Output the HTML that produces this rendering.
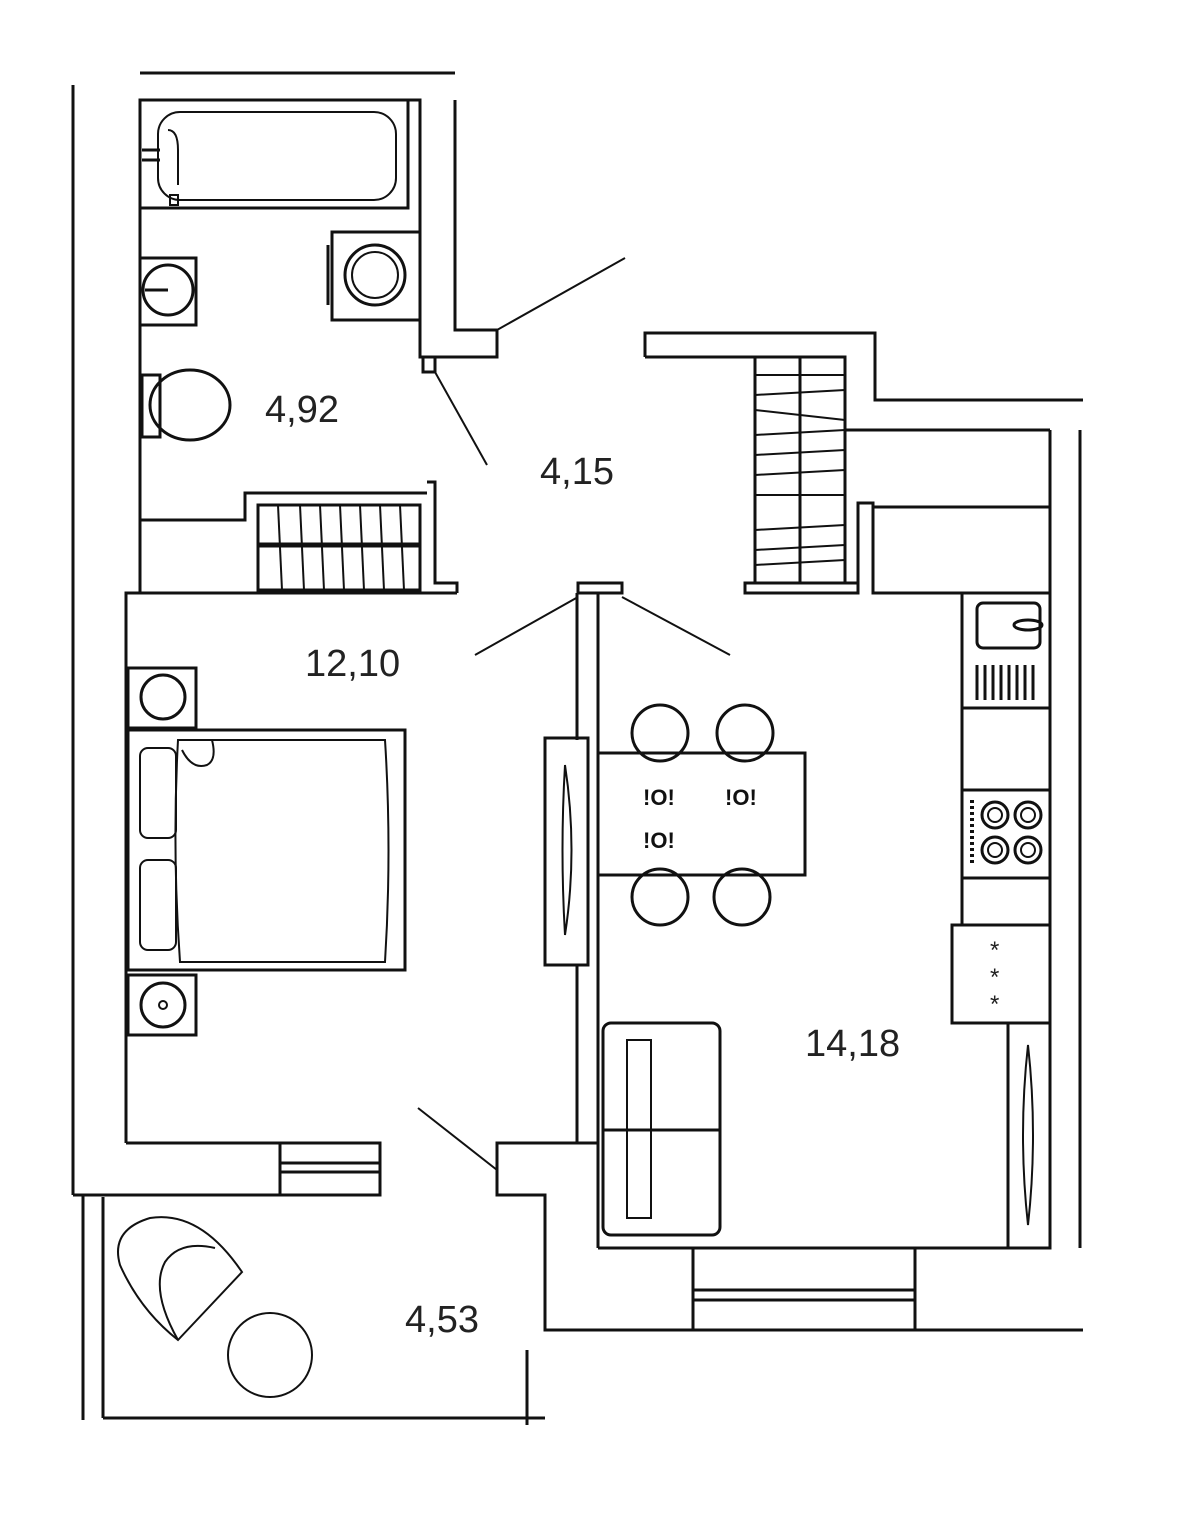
<!DOCTYPE html>
<html><head><meta charset="utf-8"><style>
html,body{margin:0;padding:0;background:#fff;}
svg{display:block}
text{font-family:"Liberation Sans",sans-serif;font-size:38px;fill:#222}
</style></head><body>
<svg width="1203" height="1513" viewBox="0 0 1203 1513" xmlns="http://www.w3.org/2000/svg">
<g fill="none" stroke="#111" stroke-width="3" stroke-linejoin="miter">
<line x1="140" y1="73" x2="455" y2="73"/>
<line x1="73" y1="85" x2="73" y2="1195"/>
<polyline points="140,593 140,100 420,100 420,357 435,357 497,357 497,330 455,330 455,100"/>
<rect x="423" y="357" width="12" height="15"/>
<line x1="497" y1="330" x2="625" y2="258" stroke-width="2"/>
<line x1="435" y1="372" x2="487" y2="465" stroke-width="2"/>
<rect x="140" y="100" width="268" height="108"/>
<rect x="158" y="112" width="238" height="88" rx="22" stroke-width="2"/>
<path d="M168 130 q10 0 10 20 v35" stroke-width="2"/>
<rect x="170" y="195" width="8" height="10" stroke-width="2"/>
<line x1="142" y1="150" x2="160" y2="150"/><line x1="142" y1="160" x2="160" y2="160"/>
<rect x="332" y="232" width="88" height="88"/>
<line x1="328" y1="245" x2="328" y2="305"/>
<circle cx="375" cy="275" r="30"/><circle cx="375" cy="275" r="23" stroke-width="2"/>
<rect x="140" y="258" width="56" height="67"/>
<circle cx="168" cy="290" r="25"/>
<line x1="145" y1="290" x2="168" y2="290"/>
<ellipse cx="190" cy="405" rx="40" ry="35"/>
<rect x="142" y="375" width="18" height="62"/>
<polyline points="140,520 245,520 245,493 420,493 427,493"/>
<polyline points="427,482 435,482 435,583 457,583 457,593"/>
<rect x="258" y="505" width="162" height="85"/>
<line x1="258" y1="545" x2="420" y2="545" stroke-width="5"/>
<g stroke-width="2">
<line x1="278" y1="505" x2="282" y2="590"/><line x1="300" y1="505" x2="304" y2="590"/>
<line x1="320" y1="505" x2="324" y2="590"/><line x1="340" y1="505" x2="344" y2="590"/>
<line x1="360" y1="505" x2="364" y2="590"/><line x1="380" y1="505" x2="384" y2="590"/>
<line x1="400" y1="505" x2="404" y2="590"/>
</g>
<polyline points="126,1143 126,593 457,593"/>
<rect x="578" y="583" width="44" height="10"/>
<line x1="577" y1="593" x2="577" y2="740"/>
<line x1="577" y1="965" x2="577" y2="1143"/>
<line x1="598" y1="593" x2="598" y2="1248"/>
<line x1="578" y1="597" x2="475" y2="655" stroke-width="2"/>
<line x1="622" y1="597" x2="730" y2="655" stroke-width="2"/>
<rect x="128" y="668" width="68" height="60"/><circle cx="163" cy="697" r="22"/>
<rect x="128" y="975" width="68" height="60"/><circle cx="163" cy="1005" r="22"/><circle cx="163" cy="1005" r="4" stroke-width="2"/>
<rect x="128" y="730" width="277" height="240"/>
<path d="M178 740 H385 Q392 850 385 962 H180 Q172 850 178 740 Z" stroke-width="2"/>
<rect x="140" y="748" width="36" height="90" rx="8" stroke-width="2"/>
<rect x="140" y="860" width="36" height="90" rx="8" stroke-width="2"/>
<path d="M182 750 q10 20 25 15 q10 -5 5 -25" stroke-width="2"/>
<line x1="126" y1="1143" x2="380" y2="1143"/>
<rect x="280" y="1143" width="100" height="52"/>
<line x1="280" y1="1163" x2="380" y2="1163"/><line x1="280" y1="1172" x2="380" y2="1172"/>
<line x1="418" y1="1108" x2="497" y2="1170" stroke-width="2"/>
<polyline points="598,1143 497,1143 497,1195 545,1195 545,1330 1083,1330"/>
<line x1="73" y1="1195" x2="280" y2="1195"/>
<line x1="83" y1="1195" x2="83" y2="1420"/>
<line x1="103" y1="1197" x2="103" y2="1418"/>
<line x1="103" y1="1418" x2="545" y2="1418"/>
<line x1="527" y1="1350" x2="527" y2="1425"/>
<path d="M178 1340 L242 1272 Q200 1210 150 1218 Q110 1230 120 1265 Q140 1310 178 1340 Z" stroke-width="2"/>
<path d="M178 1340 Q150 1290 165 1262 Q180 1240 215 1248" stroke-width="2"/>
<circle cx="270" cy="1355" r="42" stroke-width="2"/>
<line x1="598" y1="1248" x2="1050" y2="1248"/>
<rect x="693" y="1248" width="222" height="82"/>
<line x1="693" y1="1290" x2="915" y2="1290"/><line x1="693" y1="1300" x2="915" y2="1300"/>
<line x1="1050" y1="430" x2="1050" y2="1248"/>
<line x1="1080" y1="430" x2="1080" y2="1248"/>
<polyline points="645,357 645,333 875,333 875,400 1083,400"/>
<line x1="645" y1="357" x2="755" y2="357"/>
<rect x="755" y="357" width="90" height="226"/>
<line x1="800" y1="357" x2="800" y2="583"/>
<g stroke-width="2">
<line x1="755" y1="375" x2="845" y2="375"/><line x1="755" y1="395" x2="845" y2="390"/>
<line x1="755" y1="410" x2="845" y2="420"/><line x1="755" y1="435" x2="845" y2="430"/>
<line x1="755" y1="455" x2="845" y2="450"/><line x1="755" y1="475" x2="845" y2="470"/>
<line x1="755" y1="495" x2="845" y2="495"/><line x1="755" y1="530" x2="845" y2="525"/>
<line x1="755" y1="550" x2="845" y2="545"/><line x1="755" y1="565" x2="845" y2="560"/>
</g>
<rect x="745" y="583" width="113" height="10"/>
<line x1="845" y1="430" x2="1050" y2="430"/>
<polyline points="858,593 858,503 873,503 873,593 1050,593"/>
<line x1="873" y1="507" x2="1050" y2="507"/>
<line x1="962" y1="593" x2="962" y2="925"/>
<rect x="977" y="603" width="63" height="45" rx="6"/>
<ellipse cx="1028" cy="625" rx="14" ry="5"/>
<g stroke-width="3">
<line x1="977" y1="665" x2="977" y2="700"/><line x1="985" y1="665" x2="985" y2="700"/>
<line x1="993" y1="665" x2="993" y2="700"/><line x1="1001" y1="665" x2="1001" y2="700"/>
<line x1="1009" y1="665" x2="1009" y2="700"/><line x1="1017" y1="665" x2="1017" y2="700"/>
<line x1="1025" y1="665" x2="1025" y2="700"/><line x1="1033" y1="665" x2="1033" y2="700"/>
</g>
<line x1="962" y1="708" x2="1050" y2="708"/>
<line x1="962" y1="790" x2="1050" y2="790"/>
<line x1="962" y1="878" x2="1050" y2="878"/>
<circle cx="995" cy="815" r="13"/><circle cx="995" cy="815" r="7" stroke-width="2"/>
<circle cx="1028" cy="815" r="13"/><circle cx="1028" cy="815" r="7" stroke-width="2"/>
<circle cx="995" cy="850" r="13"/><circle cx="995" cy="850" r="7" stroke-width="2"/>
<circle cx="1028" cy="850" r="13"/><circle cx="1028" cy="850" r="7" stroke-width="2"/>
<line x1="972" y1="800" x2="972" y2="865" stroke-dasharray="3 3" stroke-width="4"/>
<rect x="952" y="925" width="98" height="98"/>
<rect x="1008" y="1023" width="42" height="225"/>
<path d="M1028 1045 Q1038 1135 1028 1225 Q1018 1135 1028 1045 Z" stroke-width="2"/>
<rect x="598" y="753" width="207" height="122"/>
<circle cx="660" cy="733" r="28"/><circle cx="745" cy="733" r="28"/>
<circle cx="660" cy="897" r="28"/><circle cx="742" cy="897" r="28"/>
<rect x="545" y="738" width="43" height="227"/>
<path d="M565 765 Q578 850 565 935 Q560 850 565 765 Z" stroke-width="2"/>
<rect x="603" y="1023" width="117" height="212" rx="8"/>
<line x1="603" y1="1130" x2="720" y2="1130"/>
<rect x="627" y="1040" width="24" height="178" stroke-width="2"/>
</g>
<g>
<text x="643" y="805" style="font-size:22px;fill:#111;font-weight:bold">!O!</text>
<text x="725" y="805" style="font-size:22px;fill:#111;font-weight:bold">!O!</text>
<text x="643" y="848" style="font-size:22px;fill:#111;font-weight:bold">!O!</text>
</g>
<g>
<text x="990" y="958" style="font-size:24px">*</text>
<text x="990" y="985" style="font-size:24px">*</text>
<text x="990" y="1012" style="font-size:24px">*</text>
</g>
<text x="265" y="422">4,92</text>
<text x="540" y="484">4,15</text>
<text x="305" y="676">12,10</text>
<text x="805" y="1056">14,18</text>
<text x="405" y="1332">4,53</text>
</svg>
</body></html>
